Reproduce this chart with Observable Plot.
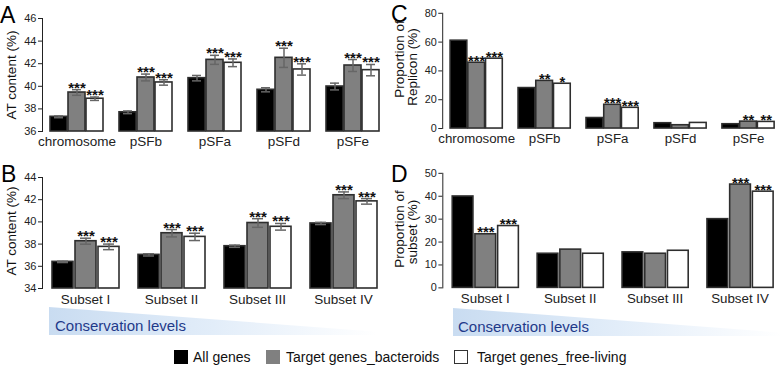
<!DOCTYPE html>
<html><head><meta charset="utf-8">
<script src="https://cdn.jsdelivr.net/npm/d3@7"></script>
<script src="https://cdn.jsdelivr.net/npm/@observablehq/plot@0.6"></script>
<style>
html,body{margin:0;padding:0;background:#fff;overflow:hidden;}
#root{position:relative;width:782px;height:368px;overflow:hidden;font-family:"Liberation Sans",Arial,Helvetica,sans-serif;color:#111;}
.panel{position:absolute;}
.letter{position:absolute;font-size:23px;line-height:1;color:#000;}
.ytitle{position:absolute;transform:translate(-50%,-50%) rotate(-90deg);white-space:nowrap;font-size:13.5px;line-height:1;color:#111;}
.band{position:absolute;height:28px;background:linear-gradient(to right,#c9dcf1 0%,#e2edf9 50%,#ffffff 100%);clip-path:polygon(0 0,100% 88%,100% 100%,0 100%);}
.bandtext{position:absolute;font-size:15px;color:#1f3a8a;white-space:nowrap;line-height:1;}
.legend{position:absolute;top:350px;left:0;width:782px;height:16px;font-size:14px;}
.sw{position:absolute;top:0;width:14px;height:14px;box-sizing:border-box;border:1.5px solid #333;}
.lt{position:absolute;top:0;line-height:15px;white-space:nowrap;}
svg [aria-label="y-axis tick label"]{font-size:11px;}
svg [aria-label="fx-axis tick label"]{font-size:13.5px;}
</style>
</head><body>
<div id="root"></div>
<script>
// ---------- data ----------
const seriesNames = ["All genes", "Target genes_bacteroids", "Target genes_free-living"];
const seriesColors = ["#000000", "#808080", "#ffffff"];

const repliconCats = ["chromosome", "pSFb", "pSFa", "pSFd", "pSFe"];
const subsetCats = ["Subset I", "Subset II", "Subset III", "Subset IV"];

// Panel A: AT content by replicon (%)
const atRepAll = [37.3, 37.7, 40.72, 39.69, 39.98];
const atRepAllErr = [0.08, 0.12, 0.24, 0.18, 0.3];
const atRepBact = [39.45, 40.78, 42.34, 42.52, 41.84];
const atRepBactErr = [0.25, 0.3, 0.4, 0.85, 0.53];
const atRepFree = [38.9, 40.34, 42.08, 41.49, 41.43];
const atRepFreeErr = [0.15, 0.24, 0.34, 0.5, 0.5];
const atRepBactSig = ["***", "***", "***", "***", "***"];
const atRepFreeSig = ["***", "***", "***", "***", "***"];

// Panel B: AT content by subset (%)
const atSubAll = [36.4, 37.03, 37.81, 39.86];
const atSubAllErr = [0.06, 0.1, 0.1, 0.1];
const atSubBact = [38.26, 38.98, 39.9, 42.4];
const atSubBactErr = [0.27, 0.33, 0.39, 0.3];
const atSubFree = [37.75, 38.65, 39.56, 41.85];
const atSubFreeErr = [0.25, 0.33, 0.3, 0.25];
const atSubBactSig = ["***", "***", "***", "***"];
const atSubFreeSig = ["***", "***", "***", "***"];

// Panel C: proportion of replicon (%)
const propRepAll = [61, 28.1, 7.3, 3.7, 3.0];
const propRepBact = [45.7, 33.1, 16.5, 2.3, 4.8];
const propRepFree = [48.5, 31.1, 14.4, 3.9, 4.6];
const propRepBactSig = ["***", "**", "***", "", "**"];
const propRepFreeSig = ["***", "*", "***", "", "**"];

// Panel D: proportion of subset (%)
const propSubAll = [39.9, 14.9, 15.5, 30.0];
const propSubBact = [23.4, 16.7, 14.9, 45.1];
const propSubFree = [27.0, 14.9, 16.2, 42.0];
const propSubBactSig = ["***", "", "", "***"];
const propSubFreeSig = ["***", "", "", "***"];

// y axes
const atRepDomain = [36, 46], atRepTicks = [36, 38, 40, 42, 44, 46];
const atSubDomain = [34, 44], atSubTicks = [34, 36, 38, 40, 42, 44];
const propRepDomain = [0, 80], propRepTicks = [0, 20, 40, 60, 80];
const propSubDomain = [0, 50], propSubTicks = [0, 10, 20, 30, 40, 50];

// ---------- build tables ----------
function table(cats, vals, errs, sigs) {
  const rows = [];
  cats.forEach((c, i) => {
    seriesNames.forEach((s, k) => {
      rows.push({cat: c, series: s, value: vals[k][i], err: errs ? errs[k][i] : 0, sig: sigs[k] ? sigs[k][i] : ""});
    });
  });
  return rows;
}

const dataA = table(repliconCats, [atRepAll, atRepBact, atRepFree], [atRepAllErr, atRepBactErr, atRepFreeErr], [null, atRepBactSig, atRepFreeSig]);
const dataB = table(subsetCats, [atSubAll, atSubBact, atSubFree], [atSubAllErr, atSubBactErr, atSubFreeErr], [null, atSubBactSig, atSubFreeSig]);
const dataC = table(repliconCats, [propRepAll, propRepBact, propRepFree], null, [null, propRepBactSig, propRepFreeSig]);
const dataD = table(subsetCats, [propSubAll, propSubBact, propSubFree], null, [null, propSubBactSig, propSubFreeSig]);

// ---------- chart builder ----------
function panel(o) {
  const base = o.domain[0];
  const marks = [
    Plot.barY(o.data, {fx: "cat", x: "series", y1: () => base, y2: "value", fill: "series", stroke: "#2e2e2e", strokeWidth: 1.6})
  ];
  if (o.errors) {
    marks.push(
      Plot.ruleX(o.data, {fx: "cat", x: "series", y1: d => d.value - d.err, y2: d => d.value + d.err, stroke: "#666", strokeWidth: 1.5}),
      Plot.tickY(o.data, {fx: "cat", x: "series", y: d => d.value - d.err, stroke: "#666", strokeWidth: 1.5, insetLeft: o.capInset, insetRight: o.capInset}),
      Plot.tickY(o.data, {fx: "cat", x: "series", y: d => d.value + d.err, stroke: "#666", strokeWidth: 1.5, insetLeft: o.capInset, insetRight: o.capInset})
    );
  }
  marks.push(
    Plot.text(o.data.filter(d => d.sig), {fx: "cat", x: "series", y: d => d.value + d.err, text: "sig", lineAnchor: "bottom", dy: 3, fontSize: 15, fontWeight: "bold", fill: "#111"})
  );
  return Plot.plot({
    width: o.width, height: o.height,
    marginLeft: o.ml, marginRight: o.mr, marginTop: o.mt, marginBottom: o.mb,
    style: {fontFamily: '"Liberation Sans", Arial, Helvetica, sans-serif', fontSize: "14px", color: "#222", background: "transparent", overflow: "visible"},
    fx: {domain: o.cats, paddingInner: 0, paddingOuter: 0, tickSize: 0, tickPadding: o.tp, label: null},
    x: {domain: seriesNames, paddingInner: o.pi, paddingOuter: o.po, axis: null},
    y: {domain: o.domain, ticks: o.ticks, tickSize: 4, tickPadding: 2, line: true, label: null},
    color: {domain: seriesNames, range: seriesColors},
    marks
  });
}

const root = document.getElementById("root");
function place(el, left, top) {
  const w = document.createElement("div");
  w.className = "panel";
  w.style.left = left + "px"; w.style.top = top + "px";
  w.appendChild(el); root.appendChild(w);
}
function addDiv(cls, text, style) {
  const d = document.createElement("div");
  d.className = cls; if (text) d.textContent = text;
  Object.assign(d.style, style); root.appendChild(d); return d;
}

place(panel({data: dataA, cats: repliconCats, domain: atRepDomain, ticks: atRepTicks, width: 390, height: 150, ml: 42, mr: 3, mt: 18, mb: 19, pi: 0.07, po: 0.37, tp: 5, errors: true, capInset: 4}), 0, 0);
place(panel({data: dataC, cats: repliconCats, domain: propRepDomain, ticks: propRepTicks, width: 398, height: 150, ml: 53, mr: 0, mt: 13, mb: 20, pi: 0.07, po: 0.45, tp: 5, errors: false}), 390, 0);
place(panel({data: dataB, cats: subsetCats, domain: atSubDomain, ticks: atSubTicks, width: 390, height: 150, ml: 42, mr: 4, mt: 17, mb: 22, pi: 0.09, po: 0.41, tp: 6, errors: true, capInset: 5}), 0, 160);
place(panel({data: dataD, cats: subsetCats, domain: propSubDomain, ticks: propSubTicks, width: 397, height: 150, ml: 53, mr: 0, mt: 13, mb: 21, pi: 0.09, po: 0.41, tp: 6, errors: false}), 390, 160);

// panel letters
addDiv("letter", "A", {left: "0px", top: "4px"});
addDiv("letter", "C", {left: "391px", top: "3px"});
addDiv("letter", "B", {left: "1px", top: "163px"});
addDiv("letter", "D", {left: "391px", top: "163px"});

// y titles
addDiv("ytitle", "AT content (%)", {left: "12px", top: "75px"});
addDiv("ytitle", "AT content (%)", {left: "12px", top: "231px"});
addDiv("ytitle", "Proportion of", {left: "400px", top: "59px"});
addDiv("ytitle", "Replicon (%)", {left: "413px", top: "67px"});
addDiv("ytitle", "Proportion of", {left: "400px", top: "229px"});
addDiv("ytitle", "subset (%)", {left: "413px", top: "232px"});

// conservation bands
addDiv("band", "", {left: "49px", top: "307px", width: "328px"});
addDiv("bandtext", "Conservation levels", {left: "55px", top: "318px"});
addDiv("band", "", {left: "453px", top: "308px", width: "329px"});
addDiv("bandtext", "Conservation levels", {left: "458px", top: "319px"});

// legend
const leg = addDiv("legend", "", {});
const legPos = [[174, 193], [266, 286], [454, 477]];
seriesNames.forEach((s, i) => {
  const sw = document.createElement("div");
  sw.className = "sw";
  sw.style.left = legPos[i][0] + "px";
  sw.style.background = seriesColors[i];
  if (i === 0) sw.style.borderColor = "#000";
  if (i === 1) sw.style.borderColor = "#808080";
  leg.appendChild(sw);
  const t = document.createElement("div");
  t.className = "lt"; t.style.left = legPos[i][1] + "px"; t.textContent = s;
  leg.appendChild(t);
});
</script>
</body></html>
